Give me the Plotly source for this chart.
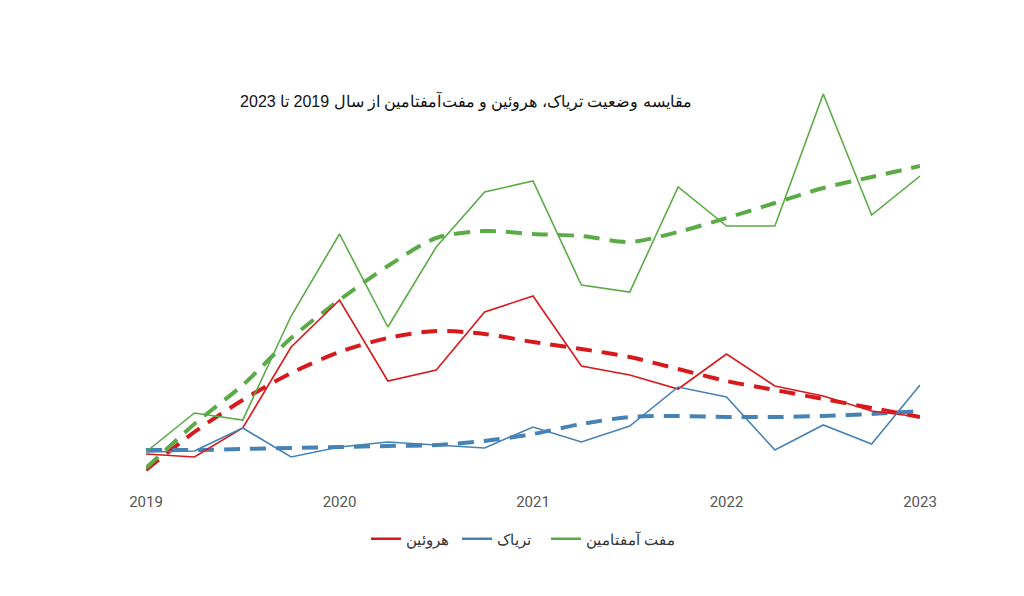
import plotly.graph_objects as go

# quarterly positions 2019 Q1 .. 2023 Q1
quarters = [2019 + i * 0.25 for i in range(17)]
tick_years = [2019, 2020, 2021, 2022, 2023]

names = ["هروئین", "تریاک", "مفت آمفتامین"]

heroin = [34, 31, 60, 141, 188, 107, 118, 176, 192, 122, 113, 99, 134, 102, 92, 77, 71]
opium = [36, 37, 60, 31, 41, 46, 43, 40, 61, 46, 62, 101, 91, 38, 63, 44, 103]
meth = [36, 75, 68, 172, 254, 161, 241, 296, 307, 203, 196, 301, 262, 262, 394, 273, 312]

heroin_trend = [18, 56, 88, 115, 136, 150, 157, 154, 146, 139, 131, 119, 107, 98, 89, 80, 71]
opium_trend = [38, 38, 39, 40, 41, 42, 43, 47, 54, 64, 71, 72, 71, 71, 72, 74, 77]
meth_trend = [20, 64, 103, 150, 188, 222, 250, 257, 254, 252, 246, 256, 270, 285, 300, 311, 322]

colors = ["#D7191C", "#4682B4", "#5AAB46"]

title_text = "مقایسه وضعیت تریاک، هروئین و مفت‌آمفتامین از سال 2019 تا 2023"

fig = go.Figure()

series = [heroin, opium, meth]
trends = [heroin_trend, opium_trend, meth_trend]
legend_ids = ["legend", "legend2", "legend3"]
legend_x = [0.2842, 0.4018, 0.5168]

for name, vals, tr, c in zip(names, series, trends, colors):
    fig.add_trace(go.Scatter(
        x=quarters, y=tr, mode="lines", showlegend=False,
        line=dict(color=c, width=4, dash="16px,10px", shape="spline", smoothing=0.8),
        hoverinfo="skip", cliponaxis=False,
    ))

for name, vals, tr, c in zip(names, series, trends, colors):
    fig.add_trace(go.Scatter(
        x=quarters, y=vals, mode="lines", name=name, showlegend=False,
        line=dict(color=c, width=1.6), cliponaxis=False,
    ))

# legend-only entries
for name, c, lid in zip(names, colors, legend_ids):
    fig.add_trace(go.Scatter(
        x=[None], y=[None], mode="lines", name=name, legend=lid,
        line=dict(color=c, width=2.6), showlegend=True,
    ))

legend_font = dict(family="Liberation Sans, Arial", size=15, color="#333")
legend_common = dict(orientation="h", xanchor="left", y=-0.122, yanchor="middle",
                     bgcolor="rgba(0,0,0,0)", borderwidth=0, font=legend_font,
                     itemwidth=30)

fig.update_layout(
    width=1024, height=596,
    paper_bgcolor="white", plot_bgcolor="white",
    margin=dict(l=146, r=104, t=70, b=108),
    title=dict(text=title_text, x=0.455, xanchor="center", y=0.83, yanchor="middle",
               xref="container", yref="container",
               font=dict(family="Liberation Sans, Arial", size=16, color="#111")),
    xaxis=dict(range=[2019, 2023], tickvals=tick_years, ticktext=[str(y) for y in tick_years],
               showgrid=False, zeroline=False, showline=False, ticks="",
               ticklabelstandoff=3,
               tickfont=dict(family="Roboto", size=15, color="#555")),
    yaxis=dict(range=[0, 418], visible=False, showgrid=False, zeroline=False),
    legend=dict(x=legend_x[0], **legend_common),
    legend2=dict(x=legend_x[1], **legend_common),
    legend3=dict(x=legend_x[2], **legend_common),
)

fig.write_html("out.html")
